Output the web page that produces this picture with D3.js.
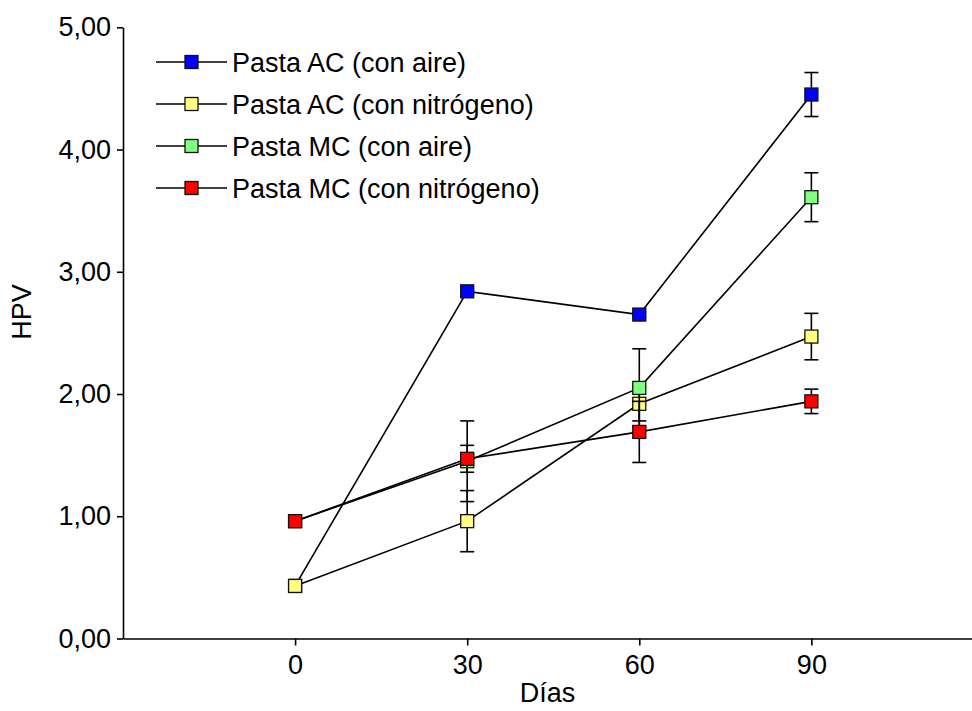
<!DOCTYPE html>
<html>
<head>
<meta charset="utf-8">
<script src="https://cdn.jsdelivr.net/npm/d3@7"></script>
<style>
  body { margin: 0; background: #fff; }
  svg text { font-family: "Liberation Sans", Arial, sans-serif; fill: #000; }
</style>
</head>
<body>
<svg id="chart" width="972" height="711"></svg>
<script>
const days = [0, 30, 60, 90];
const yTicks = [0, 1, 2, 3, 4, 5];

const seriesNames = [
  "Pasta AC (con aire)",
  "Pasta AC (con nitrógeno)",
  "Pasta MC (con aire)",
  "Pasta MC (con nitrógeno)"
];
const seriesColors = ["#0000ff", "#ffff80", "#80ff80", "#ff0000"];

const acAire = [0.43, 2.84, 2.65, 4.45];
const acAireErr = [0, 0.02, 0.02, 0.18];
const acNitro = [0.43, 0.96, 1.92, 2.47];
const acNitroErr = [0, 0.25, 0.14, 0.19];
const mcAire = [0.96, 1.45, 2.05, 3.61];
const mcAireErr = [0, 0.33, 0.32, 0.2];
const mcNitro = [0.96, 1.47, 1.69, 1.94];
const mcNitroErr = [0, 0.11, 0.25, 0.1];

const values = [acAire, acNitro, mcAire, mcNitro];
const errors = [acAireErr, acNitroErr, mcAireErr, mcNitroErr];

var svg = d3.select("#chart");
var fs = 27;

var x = d3.scaleLinear().domain([-30, 118]).range([123, 972]);
var y = d3.scaleLinear().domain([0, 5]).range([638.5, 27.3]);

var es = d3.formatLocale({ decimal: ",", thousands: ".", grouping: [3], currency: ["", "€"] });
var fmt = es.format(".2f");

// axes
var yAxis = svg.append("g")
  .attr("transform", "translate(" + x.range()[0] + ",0)")
  .call(d3.axisLeft(y).tickValues(yTicks).tickFormat(fmt).tickSize(6).tickSizeOuter(0).tickPadding(6));

var xAxis = svg.append("g")
  .attr("transform", "translate(0," + y.range()[0] + ")")
  .call(d3.axisBottom(x).tickValues(days).tickFormat(d3.format("d")).tickSize(7).tickSizeOuter(0).tickPadding(9));

[xAxis, yAxis].forEach(function(a) {
  a.selectAll("path, line").attr("stroke", "#000").attr("stroke-width", 1.6);
  a.selectAll("text").attr("font-size", fs).attr("font-family", "Liberation Sans, Arial, sans-serif");
});

svg.append("text")
  .attr("x", (x.range()[0] + x.range()[1]) / 2)
  .attr("y", 702)
  .attr("text-anchor", "middle")
  .attr("font-size", fs)
  .text("Días");

svg.append("text")
  .attr("transform", "translate(31,312) rotate(-90)")
  .attr("text-anchor", "middle")
  .attr("font-size", fs)
  .text("HPV");

// series
var line = d3.line().x(d => x(d.day)).y(d => y(d.v));
var box = 13, cap = 7;

values.forEach(function(vals, i) {
  var pts = days.map((d, j) => ({ day: d, v: vals[j], e: errors[i][j] }));
  var g = svg.append("g").attr("class", "series-" + i);

  g.append("path")
    .datum(pts)
    .attr("d", line)
    .attr("fill", "none")
    .attr("stroke", "#000")
    .attr("stroke-width", 1.6);

  var eb = g.selectAll("g.err").data(pts.filter(p => p.e > 0)).enter().append("g")
    .attr("stroke", "#000").attr("stroke-width", 1.6);
  eb.append("line")
    .attr("x1", d => x(d.day)).attr("x2", d => x(d.day))
    .attr("y1", d => y(d.v + d.e)).attr("y2", d => y(d.v - d.e));
  eb.append("line")
    .attr("x1", d => x(d.day) - cap).attr("x2", d => x(d.day) + cap)
    .attr("y1", d => y(d.v + d.e)).attr("y2", d => y(d.v + d.e));
  eb.append("line")
    .attr("x1", d => x(d.day) - cap).attr("x2", d => x(d.day) + cap)
    .attr("y1", d => y(d.v - d.e)).attr("y2", d => y(d.v - d.e));

  g.selectAll("rect").data(pts).enter().append("rect")
    .attr("x", d => x(d.day) - box / 2)
    .attr("y", d => y(d.v) - box / 2)
    .attr("width", box)
    .attr("height", box)
    .attr("fill", seriesColors[i])
    .attr("stroke", "#111")
    .attr("stroke-width", 1.3);
});

// legend
var legend = svg.append("g");
var rowY = d3.scaleLinear().domain([0, 3]).range([62, 188]);
seriesNames.forEach(function(name, i) {
  var r = legend.append("g").attr("transform", "translate(0," + rowY(i) + ")");
  r.append("line").attr("x1", 156).attr("x2", 227).attr("y1", 0).attr("y2", 0)
    .attr("stroke", "#000").attr("stroke-width", 1.6);
  r.append("rect")
    .attr("x", 191.5 - box / 2).attr("y", -box / 2)
    .attr("width", box).attr("height", box)
    .attr("fill", seriesColors[i]).attr("stroke", "#111").attr("stroke-width", 1.3);
  r.append("text")
    .attr("x", 232).attr("y", 9.5)
    .attr("font-size", fs)
    .text(name);
});
</script>
</body>
</html>
